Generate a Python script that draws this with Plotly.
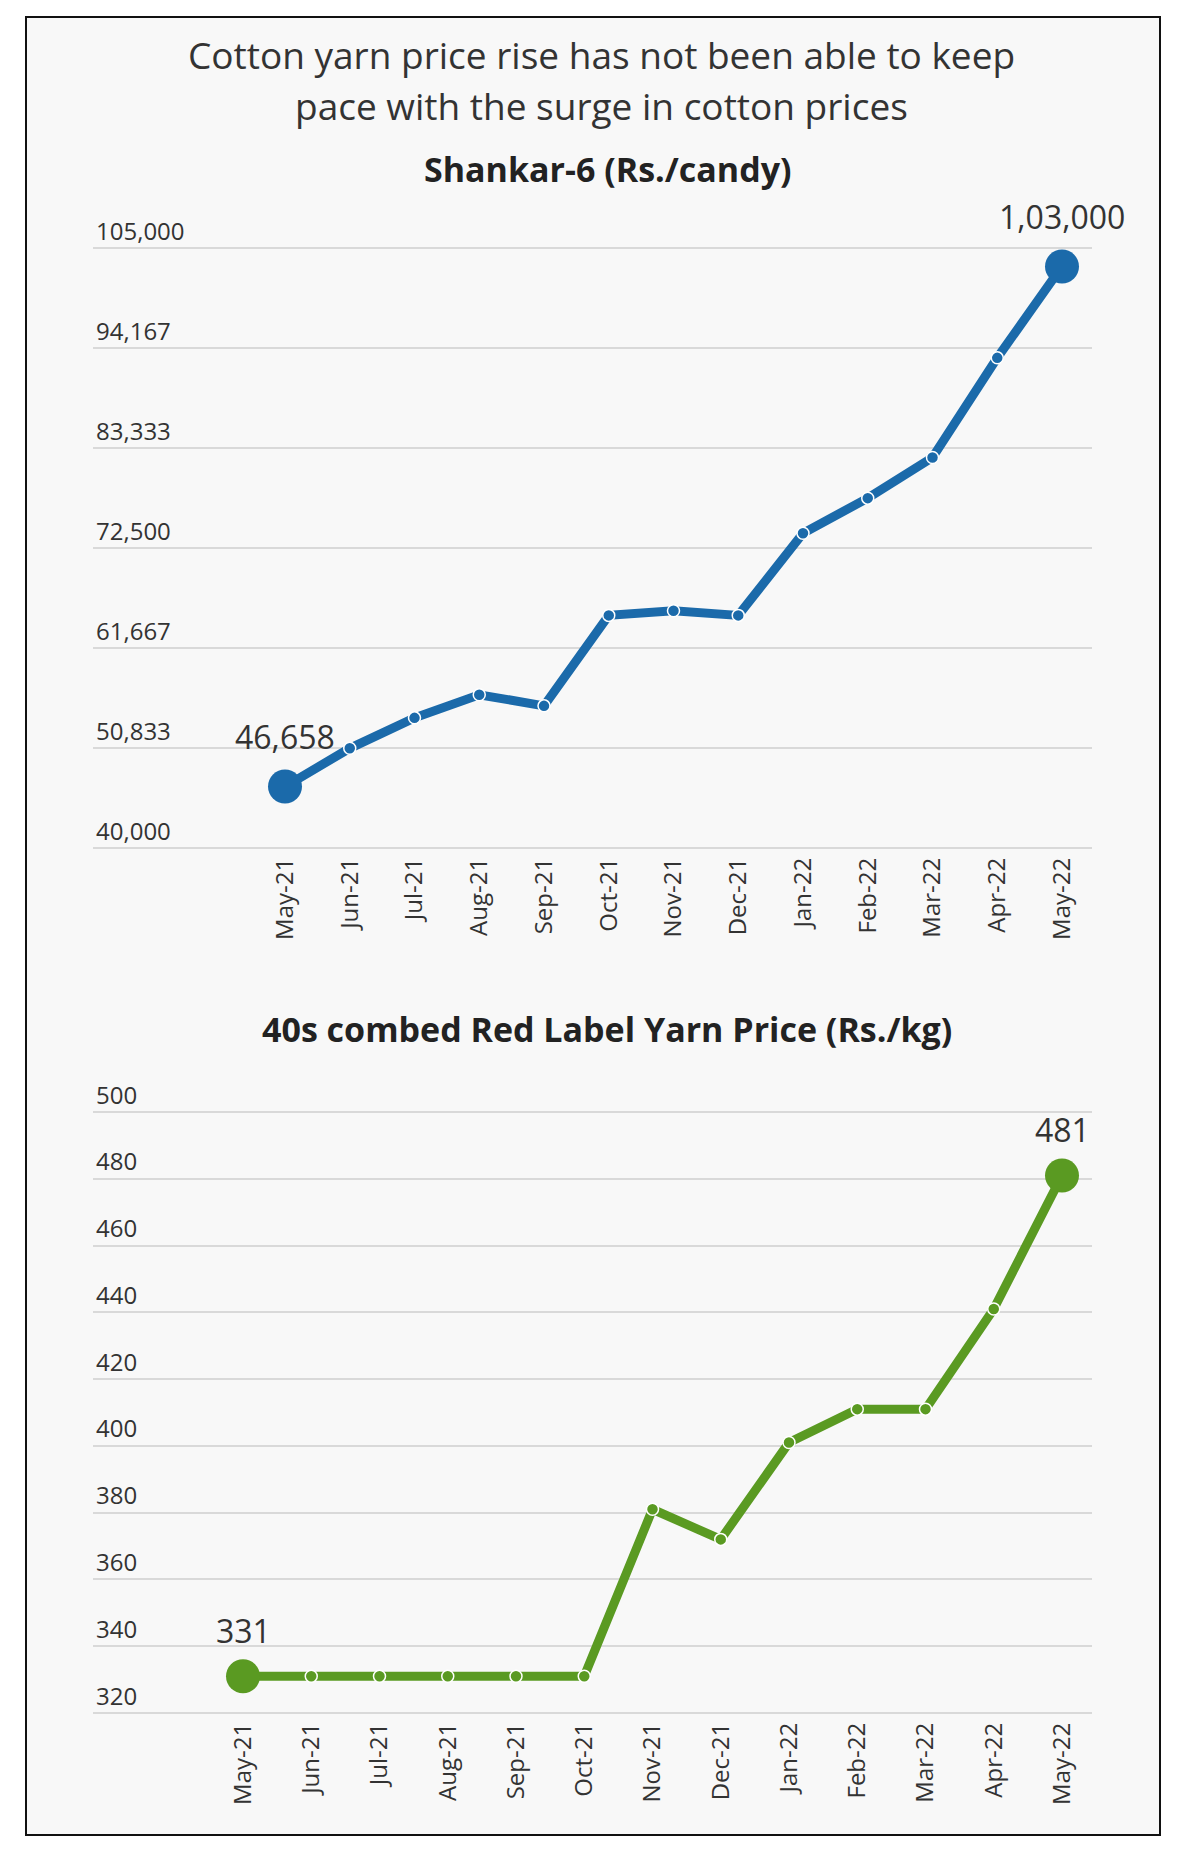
import plotly.graph_objects as go

months = ["May-21", "Jun-21", "Jul-21", "Aug-21", "Sep-21", "Oct-21", "Nov-21",
          "Dec-21", "Jan-22", "Feb-22", "Mar-22", "Apr-22", "May-22"]
shankar = [46658, 50800, 54100, 56600, 55400, 65200, 65700, 65200, 74100, 77900, 82300, 93100, 103000]
yarn = [331, 331, 331, 331, 331, 331, 381, 372, 401, 411, 411, 441, 481]

shankar_ticks = [40000, 50833, 61667, 72500, 83333, 94167, 105000]
yarn_ticks = [320, 340, 360, 380, 400, 420, 440, 460, 480, 500]
shankar_end_labels = ["46,658", "1,03,000"]
yarn_end_labels = ["331", "481"]

title_lines = ["Cotton yarn price rise has not been able to keep",
               "pace with the surge in cotton prices"]
sub1 = "Shankar-6 (Rs./candy)"
sub2 = "40s combed Red Label Yarn Price (Rs./kg)"

BLUE = "#1b6aaa"
GREEN = "#5a9a22"
W, H = 1200, 1865
FONT = "Open Sans, Noto Sans, sans-serif"
TITLE_FONT = "Open Sans, Noto Sans, sans-serif"

idx = list(range(len(months)))
n = len(months)
sizes = [34] + [12] * (n - 2) + [34]
lw = [0] + [1.5] * (n - 2) + [0]

fig = go.Figure()
fig.add_trace(go.Scatter(x=idx, y=shankar, mode="lines+markers", xaxis="x", yaxis="y",
                         line=dict(color=BLUE, width=9),
                         marker=dict(size=sizes, color=BLUE, opacity=1,
                                     line=dict(color="white", width=lw)),
                         cliponaxis=False, showlegend=False, hoverinfo="skip"))
fig.add_trace(go.Scatter(x=idx, y=yarn, mode="lines+markers", xaxis="x2", yaxis="y2",
                         line=dict(color=GREEN, width=9),
                         marker=dict(size=sizes, color=GREEN, opacity=1,
                                     line=dict(color="white", width=lw)),
                         cliponaxis=False, showlegend=False, hoverinfo="skip"))

def px_x(p):
    return p / W

def px_y(p):
    return 1 - p / H

grid_l, grid_r = 93, 1092
top_x0, top_x12 = 285, 1062
bot_x0, bot_x12 = 243, 1062
u_top = (top_x12 - top_x0) / 12
u_bot = (bot_x12 - bot_x0) / 12

# y-axis geometry (pixel rows of the first and last gridlines), padded so edge
# gridlines and the top tick label (drawn inside, above its line) are shown
top_lo_px, top_hi_px = 848, 248
bot_lo_px, bot_hi_px = 1713, 1112
PAD_LO, PAD_HI = 4, 45
t_lo, t_hi = shankar_ticks[0], shankar_ticks[-1]
t_upp = (t_hi - t_lo) / (top_lo_px - top_hi_px)
b_lo, b_hi = yarn_ticks[0], yarn_ticks[-1]
b_upp = (b_hi - b_lo) / (bot_lo_px - bot_hi_px)

axis_common = dict(showgrid=False, zeroline=False, showline=False, ticks="",
                   tickangle=-90, tickfont=dict(family=FONT, size=24, color="#333333"),
                   tickvals=idx, ticktext=months)
yaxis_common = dict(showgrid=True, gridcolor="#d9d9d9", gridwidth=2, zeroline=False,
                    showline=False, ticks="", ticklabelposition="inside top",
                    tickfont=dict(family=FONT, size=24, color="#333333"))

fig.update_layout(
    width=W, height=H, margin=dict(l=0, r=0, t=0, b=0),
    paper_bgcolor="white", plot_bgcolor="rgba(0,0,0,0)",
    xaxis=dict(axis_common, domain=[px_x(grid_l), px_x(grid_r)], anchor="y",
               range=[-(top_x0 - grid_l) / u_top, 12 + (grid_r - top_x12) / u_top]),
    yaxis=dict(yaxis_common, domain=[px_y(top_lo_px + PAD_LO), px_y(top_hi_px - PAD_HI)], anchor="x",
               range=[t_lo - PAD_LO * t_upp, t_hi + PAD_HI * t_upp],
               tickvals=shankar_ticks, tickformat=",.0f"),
    xaxis2=dict(axis_common, domain=[px_x(grid_l), px_x(grid_r)], anchor="y2",
                range=[-(bot_x0 - grid_l) / u_bot, 12 + (grid_r - bot_x12) / u_bot]),
    yaxis2=dict(yaxis_common, domain=[px_y(bot_lo_px + PAD_LO), px_y(bot_hi_px - PAD_HI)], anchor="x2",
                range=[b_lo - PAD_LO * b_upp, b_hi + PAD_HI * b_upp], tickvals=yarn_ticks),
)

# background panel and frame
fig.add_shape(type="rect", xref="paper", yref="paper", x0=px_x(26), x1=px_x(1160),
              y0=px_y(1835), y1=px_y(17), fillcolor="#f8f8f8",
              line=dict(color="#111111", width=2), layer="below")

ann = []
for line_text, yc in zip(title_lines, [54, 105]):
    ann.append(dict(text=line_text, x=px_x(601), y=px_y(yc), xref="paper", yref="paper",
                    showarrow=False, xanchor="center", yanchor="middle",
                    font=dict(family=TITLE_FONT, size=37, color="#333333")))
ann.append(dict(text="<b>" + sub1 + "</b>", x=px_x(608), y=px_y(169), xref="paper", yref="paper",
                showarrow=False, xanchor="center", yanchor="middle",
                font=dict(family=TITLE_FONT, size=34, color="#222222")))
ann.append(dict(text="<b>" + sub2 + "</b>", x=px_x(607), y=px_y(1029), xref="paper", yref="paper",
                showarrow=False, xanchor="center", yanchor="middle",
                font=dict(family=TITLE_FONT, size=34, color="#222222")))
for i, lab in zip([0, n - 1], shankar_end_labels):
    ann.append(dict(text=lab, x=idx[i], y=shankar[i], xref="x", yref="y", showarrow=False,
                    yshift=50, font=dict(family=TITLE_FONT, size=32, color="#333333")))
for i, lab in zip([0, n - 1], yarn_end_labels):
    ann.append(dict(text=lab, x=idx[i], y=yarn[i], xref="x2", yref="y2", showarrow=False,
                    yshift=46, font=dict(family=TITLE_FONT, size=32, color="#333333")))
fig.update_layout(annotations=ann)

fig.write_html("out.html")
